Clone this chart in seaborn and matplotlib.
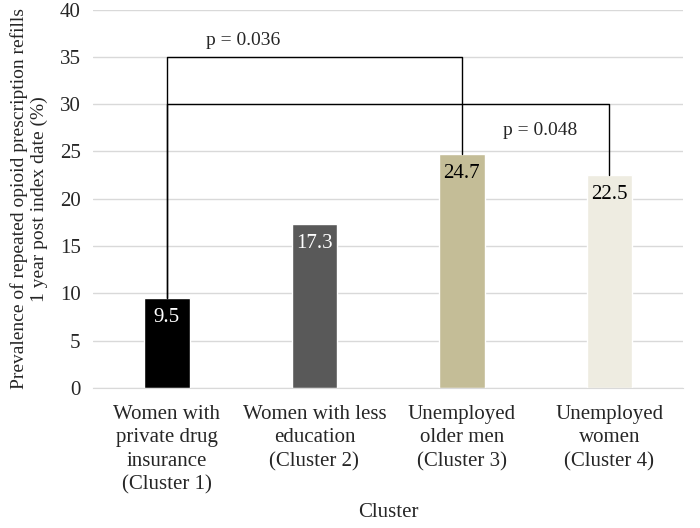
import matplotlib
matplotlib.use("Agg")
import matplotlib.pyplot as plt
import seaborn as sns
import pandas as pd

# data
clusters = [
    "Women with\nprivate drug\ninsurance\n(Cluster 1)",
    "Women with less\neducation\n(Cluster 2)",
    "Unemployed\nolder men\n(Cluster 3)",
    "Unemployed\nwomen\n(Cluster 4)",
]
prevalence = [9.5, 17.3, 24.7, 22.5]
bar_colors = ["#000000", "#595959", "#C4BD97", "#EEECE1"]
label_colors = ["white", "white", "black", "black"]

df = pd.DataFrame({"Cluster": clusters, "Prevalence": prevalence})

sns.set_style("white")
plt.rcParams["font.family"] = ["Liberation Serif", "DejaVu Serif"]

fig, ax = plt.subplots(figsize=(7, 5.28), dpi=100)
sns.barplot(data=df, x="Cluster", y="Prevalence", hue="Cluster",
            palette=bar_colors, width=0.31, legend=False, ax=ax, saturation=1)

ax.set_ylim(0, 40)
ax.set_xlim(-0.5, 3.5)
ax.set_yticks(range(0, 41, 5))
ax.yaxis.grid(True, color="#d9d9d9", linewidth=1)
ax.set_axisbelow(True)
for s in ["top", "right", "left"]:
    ax.spines[s].set_visible(False)
ax.spines["bottom"].set_color("#d9d9d9")
ax.tick_params(axis="y", length=0, labelsize=15, pad=9)
ax.tick_params(axis="x", length=0, labelsize=15, pad=12)
for t in ax.get_xticklabels():
    t.set_linespacing(1.32)

ax.set_xlabel("Cluster", fontsize=15, labelpad=6)
ax.set_ylabel("Prevalence of repeated opioid prescription refills\n1 year post index date (%)",
              fontsize=14, linespacing=1.2)
ax.yaxis.set_label_coords(-0.077, 0.5)

# value labels inside bars
for i, v in enumerate(prevalence):
    ax.text(i, v - 2.0, f"{v}", ha="center", va="center", fontsize=15, color=label_colors[i])

# significance brackets
ax.plot([0, 0, 2, 2], [prevalence[0], 35, 35, prevalence[2]], color="black", lw=1)
ax.plot([0, 0, 3, 3], [prevalence[0], 30, 30, prevalence[3]], color="black", lw=1)
ax.text(0.52, 35.8, "p = 0.036", ha="center", va="bottom", fontsize=14)
ax.text(2.53, 27.2, "p = 0.048", ha="center", va="center", fontsize=14)

fig.subplots_adjust(left=0.133, right=0.976, top=0.982, bottom=0.265)
fig.savefig("out.png", dpi=100)
